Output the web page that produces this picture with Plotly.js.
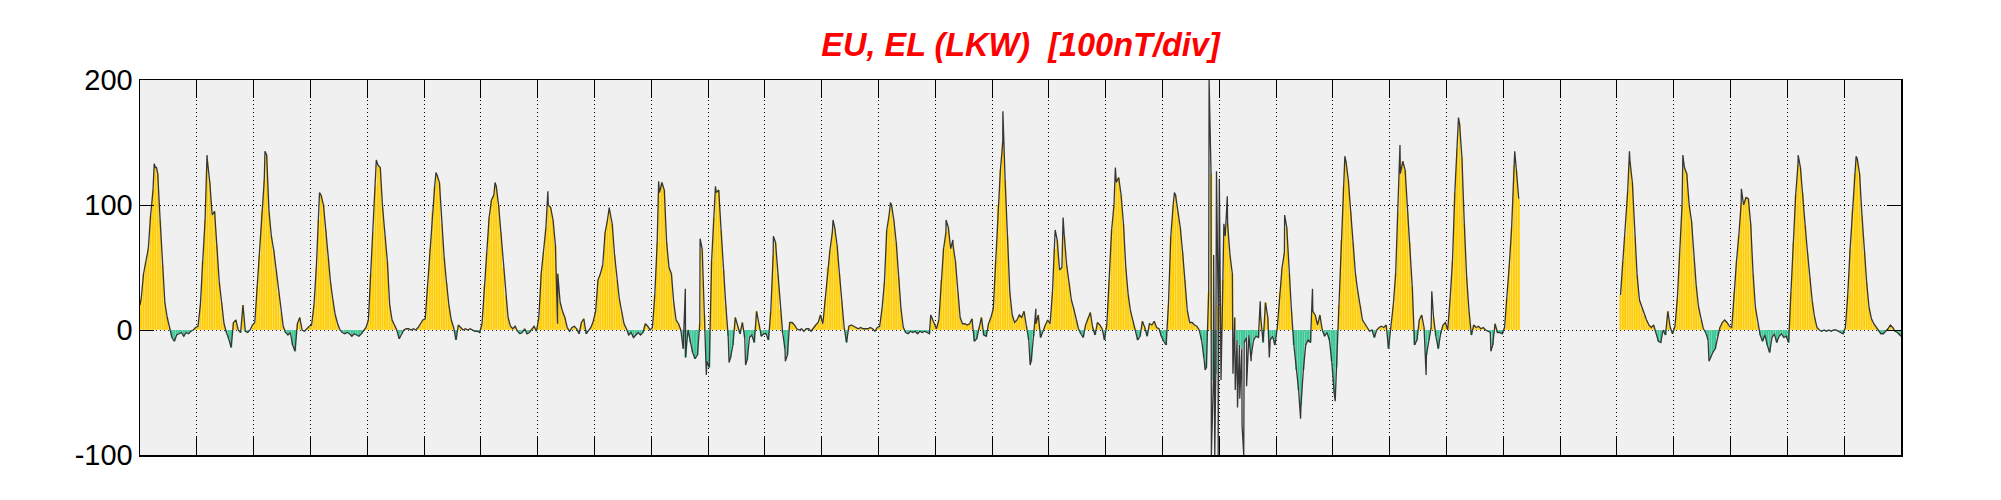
<!DOCTYPE html>
<html>
<head>
<meta charset="utf-8">
<script src="https://cdn.plot.ly/plotly-3.0.1.min.js"></script>
<style>html,body{margin:0;padding:0;background:#fff;}#chart{width:2001px;height:500px;}</style>
</head>
<body>
<div id="chart"></div>
<script>
// Hourly EU/EL values (nT), one array per day (UT hours 0..23)
const day00 = [25,45,55,65,92,112,130,125,88,52,22,10,2,-6,-9,-4,-3,-2,-5,-2,-3,-1,0,2];
const day01 = [3,20,55,88,135,118,92,95,68,38,22,5,-2,-7,-14,6,8,0,-2,20,-1,-2,0,4];
const day02 = [6,35,60,95,120,140,95,75,64,48,30,14,3,-2,-4,-2,-12,-17,5,10,0,-1,1,3];
const day03 = [4,20,50,88,108,100,80,58,38,24,12,5,0,-2,-3,-2,-3,-5,-3,-4,-5,-3,0,2];
const day04 = [8,45,78,115,132,130,98,75,55,20,8,4,0,-7,-3,0,1,1,0,1,0,2,5,8];
const day05 = [9,35,65,95,115,124,118,85,58,38,20,8,2,-8,4,2,0,1,0,1,0,-1,-1,-2];
const day06 = [5,36,62,90,104,108,115,100,78,50,28,10,3,1,3,-1,-3,-2,1,-3,-2,1,3,-1];
const day07 = [10,45,62,82,100,98,88,68,45,22,15,10,2,-1,2,3,1,-3,6,9,-3,0,2,7];
const day08 = [15,40,45,52,78,88,95,85,60,40,25,15,5,1,-4,-2,-6,-4,-2,-4,-2,5,3,0];
const day09 = [2,28,70,110,118,112,70,50,45,22,8,5,0,-15,-22,0,-10,-18,-23,-20,5,65,12,-25];
const day10 = [-30,55,90,110,112,80,48,20,-5,-22,-12,10,3,-3,6,-6,-24,-6,-4,-10,15,5,-5,-3];
const day11 = [-3,-8,15,60,70,45,17,-2,-15,-20,6,6,4,1,0,1,-1,1,1,-1,2,4,6,12];
const day12 = [5,25,50,64,78,82,68,45,23,2,-10,3,4,3,2,1,2,1,1,1,2,1,-1,2];
const day13 = [3,17,38,80,92,100,88,70,42,17,2,-2,-3,-1,-2,-1,-3,-1,-2,-1,-2,-3,10,5];
const day14 = [1,8,40,65,78,82,65,68,55,30,10,5,5,4,5,9,-9,-7,2,10,-4,-5,5,10];
const day15 = [17,55,100,128,150,120,75,30,12,6,8,12,10,15,3,-8,-25,-5,5,12,-6,0,4,8];
const day16 = [5,30,65,72,48,50,75,52,38,24,17,8,1,-3,-6,4,10,14,2,-4,6,4,1,-8];
const day17 = [5,40,80,100,118,122,108,85,50,28,15,7,1,-8,-5,7,2,-5,5,4,7,2,1,-5];
const day18 = [-9,-12,20,75,100,108,95,82,62,40,15,6,6,4,3,0,-8,-22,-30,30,125,-40,-35,20];
const day19 = [20,40,75,85,60,45,10,-8,-12,-15,-10,-6,-4,-20,-8,-5,-6,10,-10,22,10,-8,-5,-12];
const day20 = [2,30,50,62,82,45,15,-12,-32,-48,-60,-32,-12,-8,-10,15,12,4,12,0,-5,-2,-8,-25];
const day21 = [-50,-30,20,72,115,135,120,95,70,45,31,20,8,5,2,-1,0,-6,0,2,3,2,4,-15];
const day22 = [3,20,45,95,125,135,128,95,70,35,-12,-8,8,12,2,-20,-8,2,10,-5,-15,-3,4,6];
const day23 = [0,25,55,110,145,165,138,85,42,15,-4,4,2,3,1,2,0,-1,-2,-12,5,-2,-2,-3];
const day24 = [2,25,52,82,132,128,105,null,null,null,null,null,null,null,null,null,null,null,null,null,null,null,null,null];
const day25 = [null,null,null,null,null,null,null,null,null,null,null,null,null,null,null,null,null,null,null,null,null,null,null,null];
const day26 = [null,28,55,75,110,135,118,75,44,24,18,12,8,4,2,4,-2,-9,-10,0,-4,15,2,-3];
const day27 = [3,25,62,100,130,125,100,87,58,35,18,8,1,-2,-8,-22,-18,-15,-5,2,6,8,6,3];
const day28 = [2,30,55,76,102,100,106,105,85,45,18,5,-4,-9,-4,-12,-18,-6,-3,-10,-5,-3,-6,-5];
const day29 = [-10,30,70,108,133,130,110,84,62,42,23,10,2,0,-1,0,-1,0,-1,0,0,-1,-2,-3];
const day30 = [2,28,65,97,125,137,125,92,62,38,18,9,5,2,-1,-3,-3,-1,1,4,2,-1,-2,-4];

// Short-lived extremes of the trace (day, nT)
const spikeDays = [0.0,0.25,0.29,1.18,2.20,3.16,4.16,5.21,6.25,7.18,7.35,8.26,9.13,9.60,9.86,9.97,10.13,10.37,10.66,11.15,11.36,12.20,13.21,13.92,14.19,14.31,15.19,15.67,15.77,16.11,16.25,17.17,18.21,18.75,18.82,18.86,18.90,18.92,18.95,18.98,19.00,19.03,19.08,19.14,19.24,19.28,19.32,19.36,19.40,19.43,19.48,19.56,19.72,19.88,20.15,20.43,20.64,21.04,21.21,22.18,22.64,22.74,23.21,23.78,24.20,26.22,27.16,27.62,28.19,29.19,30.21,31.0];
const spikeValues = [20,133,130,140,143,110,136,126,118,111,5,98,119,33,73,-36,115,-26,-28,75,-25,88,102,12,88,72,175,-28,17,80,90,130,110,-32,200,-100,60,-100,127,-100,121,-40,85,107,-35,-48,-62,-55,-76,-100,-45,-25,23,-22,92,-71,33,-57,139,148,-36,31,170,-17,143,143,140,-25,113,140,139,-5];

const days = [day00,day01,day02,day03,day04,day05,day06,day07,day08,day09,day10,day11,day12,day13,day14,day15,day16,day17,day18,day19,day20,day21,day22,day23,day24,day25,day26,day27,day28,day29,day30];
const yTickVals = [-100, 0, 100, 200];
const yTickText = ['-100', '0', '100', '200'];

const hx = [], hy = [];
days.forEach((arr, d) => arr.forEach((v, h) => { hx.push(d + (h + 0.5) / 24); hy.push(v); }));

const posY = hy.map(v => v === null ? null : (v > 0 ? v : 0));
const negY = hy.map(v => v === null ? null : (v < 0 ? v : 0));

// line: hourly points merged with spikes
const pts = hx.map((t, i) => [t, hy[i]]);
spikeDays.forEach((t, i) => pts.push([t, spikeValues[i]]));
pts.sort((a, b) => a[0] - b[0]);
const lx = pts.map(p => p[0]), ly = pts.map(p => p[1]);

const traces = [
  {type: 'bar', x: hx, y: posY, width: 1/24, marker: {color: '#FFCC00', line: {color: 'rgba(255,255,255,0.7)', width: 0.25}}, hoverinfo: 'skip'},
  {type: 'bar', x: hx, y: negY, width: 1/24, marker: {color: '#3CC896', line: {color: 'rgba(255,255,255,0.5)', width: 0.2}}, hoverinfo: 'skip'},
  {type: 'scatter', mode: 'lines', x: lx, y: ly, line: {color: '#363636', width: 1.3}, connectgaps: false, hoverinfo: 'skip'}
];

const font = "Arial, 'Liberation Sans', Helvetica, sans-serif";
const layout = {
  width: 2001, height: 500,
  margin: {l: 140, r: 100, t: 80, b: 45, pad: 0},
  paper_bgcolor: '#ffffff', plot_bgcolor: '#f0f0f0',
  showlegend: false, barmode: 'overlay', bargap: 0,
  title: {text: '<b><i>EU, EL (LKW)&nbsp; [100nT/div]</i></b>', x: 0.5, xref: 'paper', xanchor: 'center', y: 0.91, yanchor: 'middle',
          font: {family: font, size: 32.5, color: '#ff0000'}},
  xaxis: {range: [0, 31], dtick: 1, tick0: 0, showticklabels: false, ticks: 'inside', ticklen: 18, tickwidth: 1, tickcolor: '#000',
          showline: true, linecolor: '#000', linewidth: 1.5, mirror: 'ticks', showgrid: true, gridcolor: '#000', griddash: '1px,3px', gridwidth: 1, zeroline: false},
  yaxis: {range: [-100, 200], tickvals: yTickVals, ticktext: yTickText, ticks: 'inside', ticklen: 14, tickwidth: 1, tickcolor: '#000',
          showline: true, linecolor: '#000', linewidth: 1.5, mirror: 'ticks', showgrid: true, gridcolor: '#000', griddash: '1px,3px', gridwidth: 1, zeroline: false,
          tickfont: {family: font, size: 29, color: '#000'}}
};

Plotly.newPlot('chart', traces, layout, {staticPlot: true, displayModeBar: false});
</script>
</body>
</html>
